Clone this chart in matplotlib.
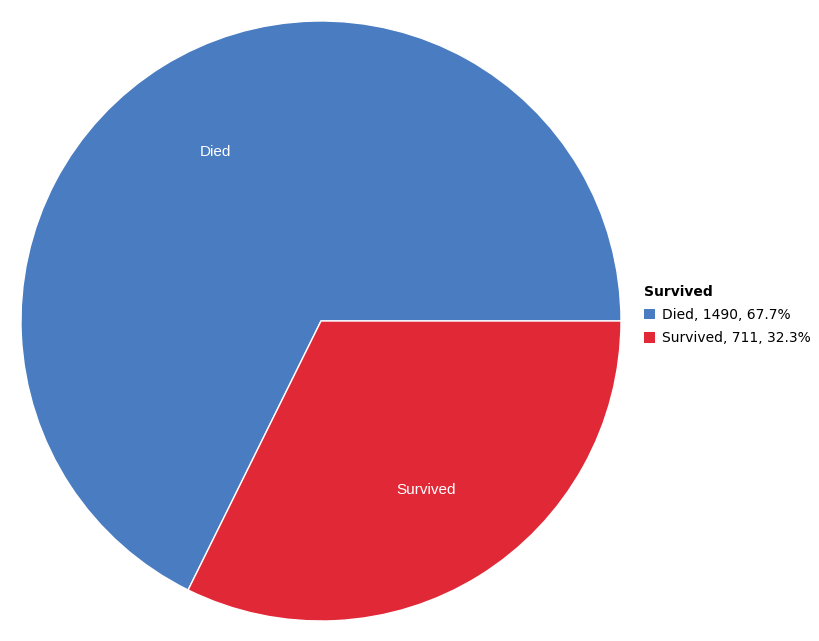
import matplotlib
matplotlib.use("Agg")
import matplotlib.pyplot as plt

# data
categories = ["Died", "Survived"]
counts = [1490, 711]
colors = ["#497cc0", "#e12837"]
legend_title = "Survived"

total = sum(counts)
legend_labels = [f"{c}, {n}, {100 * n / total:.1f}%" for c, n in zip(categories, counts)]

fig = plt.figure(figsize=(8.19, 6.41), dpi=100)
# pie box: 600x600 px, centred at (321, 321)
ax = fig.add_axes([21 / 819, 20 / 641, 600 / 819, 600 / 641])

wedges, texts = ax.pie(
    counts, labels=categories, colors=colors, startangle=0, counterclock=True,
    labeldistance=0.665, radius=1,
    wedgeprops=dict(edgecolor="white", linewidth=1),
    textprops=dict(color="white", fontsize=11, family="Liberation Sans"),
)
for t in texts:
    t.set_horizontalalignment("center")
    t.set_verticalalignment("center")
ax.set_xlim(-1, 1)
ax.set_ylim(-1, 1)
ax.set_aspect("equal")
ax.axis("off")

leg = fig.legend(
    wedges, legend_labels, title=legend_title, loc="center left",
    bbox_to_anchor=(644 / 819, 1 - 315 / 641), frameon=False,
    fontsize=10, title_fontproperties=dict(weight="bold", size=10),
    alignment="left", handlelength=0.8, handleheight=0.8,
    handletextpad=0.5, labelspacing=0.68, borderpad=0, borderaxespad=0,
)
for h in leg.legend_handles:
    h.set_edgecolor("none")

fig.savefig("out.png", dpi=100)
